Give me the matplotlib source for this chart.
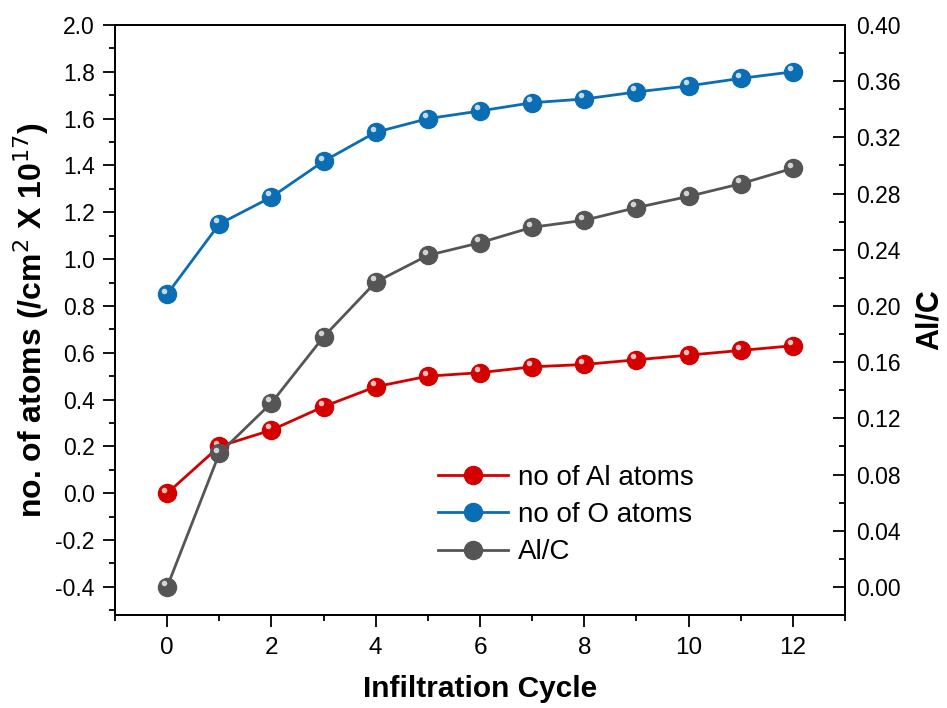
import matplotlib
matplotlib.use("Agg")
import matplotlib.pyplot as plt
import matplotlib.transforms as mtransforms
from matplotlib.ticker import MultipleLocator, FormatStrFormatter
from matplotlib.lines import Line2D

plt.rcParams['font.family'] = ['Liberation Sans', 'DejaVu Sans']

# donnees
cycles = [0, 1, 2, 3, 4, 5, 6, 7, 8, 9, 10, 11, 12]
al_atoms = [0.0, 0.20, 0.27, 0.37, 0.455, 0.50, 0.515, 0.54, 0.55, 0.57, 0.59, 0.61, 0.63]
o_atoms = [0.85, 1.15, 1.265, 1.418, 1.542, 1.60, 1.633, 1.668, 1.684, 1.714, 1.74, 1.772, 1.80]
al_c = [0.0, 0.095, 0.131, 0.178, 0.217, 0.236, 0.245, 0.256, 0.261, 0.270, 0.278, 0.287, 0.298]

red = '#d40000'
blue = '#0b6db3'
grey = '#555555'

fig = plt.figure(figsize=(9.47, 7.08), dpi=100)
ax1 = fig.add_axes([115 / 947, 1 - 615 / 708, 730 / 947, 590 / 708])
ax2 = ax1.twinx()


def draw_balls(ax, x, y, color, label):
    ax.plot(x, y, '-', color=color, lw=2, marker='o', ms=13,
            mfc=color, mec=color, label=label, zorder=3)
    # petit reflet blanc pour l'effet "bille"
    shift = mtransforms.offset_copy(ax.transData, fig=fig, x=-2.2, y=2.6, units='points')
    ax.plot(x, y, 'o', ms=4, color='white', alpha=0.75, mec='none',
            transform=shift, zorder=4)


draw_balls(ax1, cycles, al_atoms, red, 'no of Al atoms')
draw_balls(ax1, cycles, o_atoms, blue, 'no of O atoms')
draw_balls(ax2, cycles, al_c, grey, 'Al/C')

ax1.set_xlim(-1, 13)
ax1.set_ylim(-0.52, 2.0)
ax2.set_ylim(-0.02, 0.40)

ax1.xaxis.set_major_locator(MultipleLocator(2))
ax1.xaxis.set_minor_locator(MultipleLocator(1))
ax1.yaxis.set_major_locator(MultipleLocator(0.2))
ax1.yaxis.set_minor_locator(MultipleLocator(0.1))
ax1.yaxis.set_major_formatter(FormatStrFormatter('%.1f'))
ax2.yaxis.set_major_locator(MultipleLocator(0.04))
ax2.yaxis.set_minor_locator(MultipleLocator(0.02))
ax2.yaxis.set_major_formatter(FormatStrFormatter('%.2f'))

for ax in (ax1, ax2):
    for sp in ax.spines.values():
        sp.set_linewidth(1.3)

ax1.tick_params(axis='both', which='major', direction='out', length=8.5, width=1.3, labelsize=16.5)
ax1.tick_params(axis='y', which='major', pad=6)
ax1.tick_params(axis='x', which='major', pad=7, labelsize=17.5)
ax1.tick_params(axis='both', which='minor', direction='out', length=4.5, width=1.3)
ax2.tick_params(axis='y', which='major', direction='in', length=8.5, width=1.3, labelsize=16.5, pad=8)
ax2.tick_params(axis='y', which='minor', direction='in', length=4.5, width=1.3)

ax1.set_xlabel('Infiltration Cycle', fontsize=21.5, fontweight='bold', labelpad=12)
ax1.set_ylabel('no. of atoms (/cm$^2$ X 10$^{17}$)', fontsize=23, fontweight='bold', labelpad=3)
ax2.set_ylabel('Al/C', fontsize=22, fontweight='bold', labelpad=10)

handles = [Line2D([0, 1, 2], [0, 0, 0], color=c, lw=2, marker='o', ms=13, markevery=[1])
           for c in (red, blue, grey)]
leg = ax1.legend(handles, ['no of Al atoms', 'no of O atoms', 'Al/C'],
                 loc='upper left', bbox_to_anchor=(0.443, 0.255), frameon=False,
                 fontsize=20, handlelength=2.5, handletextpad=0.35,
                 labelspacing=0.41, borderpad=0, borderaxespad=0, numpoints=1)

fig.savefig('out.png', dpi=100)
